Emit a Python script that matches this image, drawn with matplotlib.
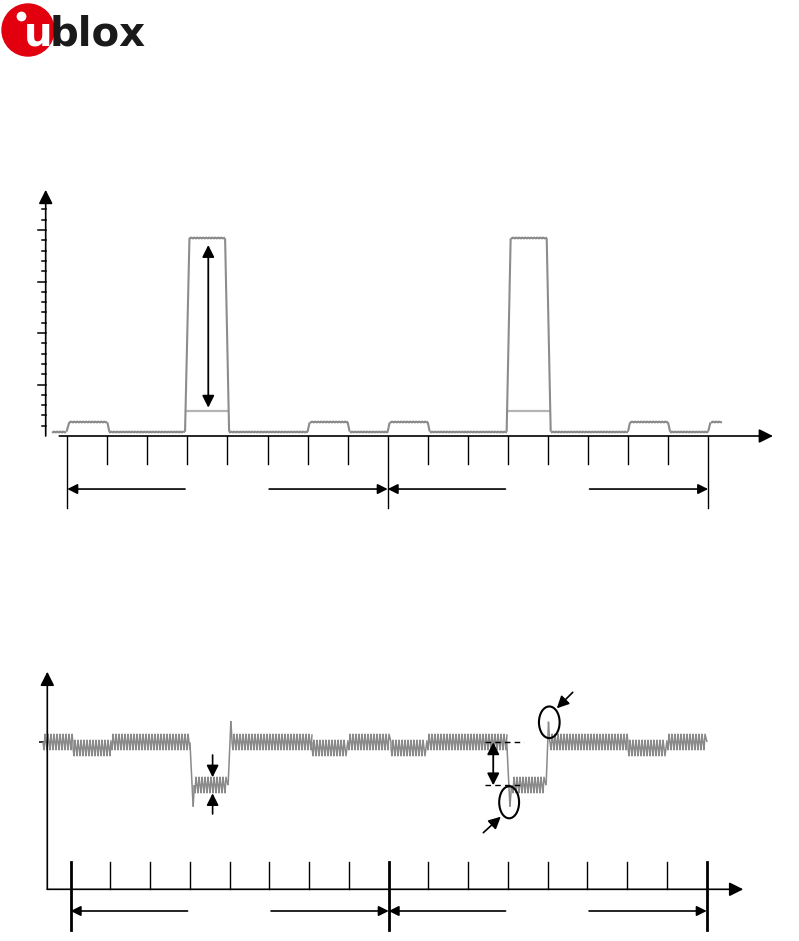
import matplotlib
matplotlib.use("Agg")
import matplotlib.pyplot as plt
from matplotlib.patches import Circle, Ellipse

W, H = 799, 941

# ---- data (time in GSM slots, levels in arbitrary units) ----
slots = list(range(17))
frame_edges = [0, 8, 16]

# current consumption (top)
cur_t = [-0.39, -0.02, 0.05, 1.0, 1.05, 2.94, 3.05, 3.94, 4.04, 6.0, 6.05, 7.0, 7.05,
         8.0, 8.05, 9.0, 9.05, 10.97, 11.07, 11.97, 12.07, 14.0, 14.05, 15.0, 15.05,
         16.0, 16.06, 16.35]
cur_i = [0.42, 0.42, 1.33, 1.33, 0.42, 0.42, 19.2, 19.2, 0.42, 0.42, 1.33, 1.33, 0.42,
         0.42, 1.33, 1.33, 0.42, 0.42, 19.2, 19.2, 0.42, 0.42, 1.33, 1.33, 0.42,
         0.42, 1.33, 1.33]
# lower level inside the TX bursts
burst_t = [[2.97, 4.02], [10.97, 12.03]]
burst_i = 2.45

# supply voltage (bottom)
volt_t = [-0.69, 0.05, 0.05, 1.01, 1.01, 3.0, 3.08, 3.11, 3.96, 4.03, 4.06, 6.06, 6.06,
          6.98, 6.98, 8.05, 8.05, 8.97, 8.97, 10.97, 11.05, 11.09, 11.96, 12.02, 12.05,
          14.03, 14.03, 14.99, 14.99, 16.0]
volt_v = [14.7, 14.7, 14.1, 14.1, 14.7, 14.7, 8.26, 10.4, 10.4, 16.83, 14.7, 14.7, 14.1,
          14.1, 14.7, 14.7, 14.1, 14.1, 14.7, 14.7, 8.26, 10.4, 10.4, 16.76, 14.7,
          14.7, 14.1, 14.1, 14.7, 14.7]
v_nominal, v_drop = 14.7, 10.4


def px_axes(fig, left, right, top, bottom):
    return fig.add_axes([left / W, 1 - bottom / H, (right - left) / W, (bottom - top) / H])


def arrow(ax, head, tail, lw=1.2, hl=0.5, hw=0.25, ms=12):
    ax.annotate("", xy=head, xytext=tail,
                arrowprops=dict(arrowstyle=f"-|>,head_length={hl},head_width={hw}",
                                color="k", lw=lw, mutation_scale=ms,
                                shrinkA=0, shrinkB=0))


def darrow(ax, a, b, lw=1.3):
    ax.annotate("", xy=a, xytext=b,
                arrowprops=dict(arrowstyle="<|-|>,head_length=0.6,head_width=0.3",
                                color="k", lw=lw, mutation_scale=12,
                                shrinkA=0, shrinkB=0))


def rippled(ax, t, y, color, lw, scale, length):
    for k in range(len(t) - 1):
        line, = ax.plot(t[k:k + 2], y[k:k + 2], color=color, lw=lw,
                        solid_capstyle="butt")
        if y[k] == y[k + 1]:
            line.set_sketch_params(scale=scale, length=length, randomness=1)


fig = plt.figure(figsize=(W / 100, H / 100), dpi=100)

# ---- logo ----
lg = fig.add_axes([0, 0, 1, 1])
lg.set_xlim(0, W)
lg.set_ylim(H, 0)
lg.set_axis_off()
lg.add_patch(Circle((28, 30), 26, color="#e2000f"))
lg.add_patch(Circle((21.5, 16.5), 4.2, color="white"))
lg.text(38, 45, "u", color="white", fontsize=29, fontweight="bold",
        ha="center", va="baseline")
lg.text(50, 45, "blox", color="#1a1a1a", fontsize=29, fontweight="bold",
        ha="left", va="baseline")

# ---- top chart: current ----
x0, sw = 67.3, 40.05
yz, yu = 436.0, 10.3
ax1 = px_axes(fig, x0 - 0.8 * sw, x0 + 17.8 * sw, yz - 24.5 * yu, yz + 7.5 * yu)
ax1.set_xlim(-0.8, 17.8)
ax1.set_ylim(-7.5, 24.5)
ax1.set_axis_off()

yx = (45.7 - x0) / sw
arrow(ax1, (yx, 23.9), (yx, 0), lw=1.2, hl=0.6, hw=0.3, ms=14)
arrow(ax1, (17.62, 0), (-0.2, 0), lw=1.2, hl=0.6, hw=0.3, ms=14)
for k in range(1, 23):
    ln = 0.2 if k % 5 == 0 else 0.1
    ax1.plot([yx - ln, yx], [k, k], color="k", lw=1.1)
for s in slots:
    lo = -7.0 if s in frame_edges else -2.72
    ax1.plot([s, s], [0, lo], color="k", lw=1.0)
for a in frame_edges[:-1]:
    arrow(ax1, (a, -5.15), (a + 2.94, -5.15))
    arrow(ax1, (a + 8, -5.15), (a + 5.04, -5.15))

for bt in burst_t:
    ax1.plot(bt, [burst_i, burst_i], color="#b4b4b4", lw=1.6)
rippled(ax1, cur_t, cur_i, "#8c8c8c", 1.5, 0.5, 3)
darrow(ax1, (3.52, 18.54), (3.52, 2.75))

# ---- bottom chart: voltage ----
x0b, swb = 70.7, 39.75
yzb, yub = 889.3, 10.0
ax2 = px_axes(fig, x0b - 0.8 * swb, x0b + 17.2 * swb, yzb - 23 * yub, yzb + 5 * yub)
ax2.set_xlim(-0.8, 17.2)
ax2.set_ylim(-5, 23)
ax2.set_axis_off()

yxb = (47.3 - x0b) / swb
arrow(ax2, (yxb, 21.76), (yxb, 0), lw=1.2, hl=0.6, hw=0.3, ms=14)
arrow(ax2, (16.92, 0), (yxb, 0), lw=1.2, hl=0.6, hw=0.3, ms=14)
ax2.plot([(39.3 - x0b) / swb, yxb], [v_nominal, v_nominal], color="k", lw=1.1)
for s in slots:
    if s in frame_edges:
        ax2.plot([s, s], [2.7, -4.07], color="k", lw=2.0)
    else:
        ax2.plot([s, s], [0, 2.7], color="k", lw=1.0)
for a in frame_edges[:-1]:
    arrow(ax2, (a, -2.17), (a + 2.94, -2.17))
    arrow(ax2, (a + 8, -2.17), (a + 5.04, -2.17))

rippled(ax2, volt_t, volt_v, "#8a8a8a", 1.1, 9, 3)

# annotations on the voltage drop
for lvl in (v_nominal, v_drop):
    ax2.plot([10.42, 11.41], [lvl, lvl], color="k", lw=1.0, ls=(0, (4, 3)), zorder=5)
darrow(ax2, (10.63, v_nominal), (10.63, v_drop))
arrow(ax2, (3.57, 11.2), (3.57, 13.43), lw=1.2, hl=0.6, hw=0.3, ms=12)
arrow(ax2, (3.57, 9.6), (3.57, 7.53), lw=1.2, hl=0.6, hw=0.3, ms=12)
ax2.add_patch(Ellipse((11.03, 8.7), 0.5, 3.2, fill=False, ec="k", lw=1.5, zorder=6))
ax2.add_patch(Ellipse((12.04, 16.7), 0.52, 3.17, fill=False, ec="k", lw=1.5, zorder=6))
arrow(ax2, (10.82, 7.26), (10.38, 5.66), lw=1.2, hl=0.6, hw=0.3, ms=12)
arrow(ax2, (12.23, 18.1), (12.63, 19.7), lw=1.2, hl=0.6, hw=0.3, ms=12)

fig.savefig("out.png", dpi=100)
